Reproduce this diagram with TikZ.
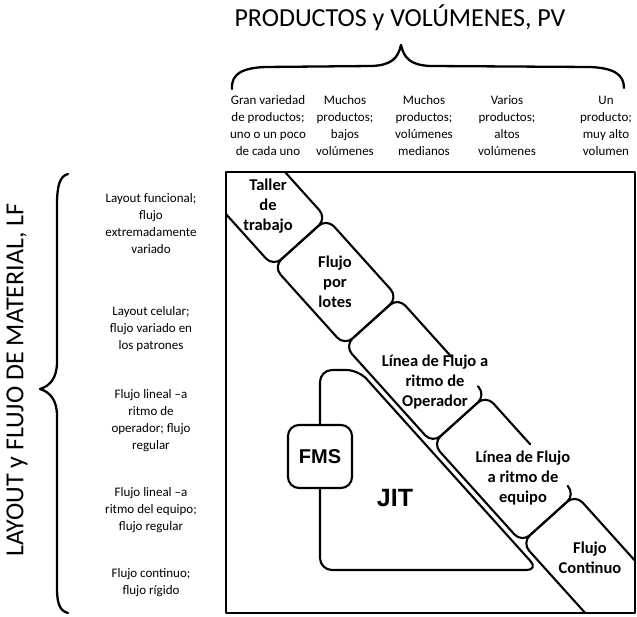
\documentclass[tikz,border=0pt]{standalone}
\usepackage{fontspec}
\setmainfont{Carlito}
\newfontfamily\heavyfont{Liberation Sans}
\begin{document}
\begin{tikzpicture}[x=1pt,y=-1pt,
  line cap=round, line join=round,
  hdr/.style={font=\fontsize{26}{30}\selectfont, inner sep=0pt},
  note/.style={font=\fontsize{13}{17}\selectfont, align=center, inner sep=0pt},
  celltext/.style={font=\bfseries\fontsize{16.5}{20}\selectfont, align=center, inner sep=0pt},
  tag/.style={font=\heavyfont\bfseries\fontsize{20}{24}\selectfont, inner sep=0pt},
  brace/.style={line width=2.3pt},
  frame/.style={line width=2.3pt},
  cell/.style={line width=2.1pt, rounded corners=11pt},
]
\useasboundingbox (0,0) rectangle (637,617);

% axis titles
\node[hdr] (pv) at (400,18) {PRODUCTOS y VOLÚMENES, PV};
\node[hdr, rotate=90] (lf) at (17,380) {LAYOUT y FLUJO DE MATERIAL, LF};

% braces
\draw[brace] (232,89) .. controls (231,74) and (242,68) .. (265,67) -- (372,66)
  .. controls (392,65) and (398,58) .. (401,45)
  .. controls (404,58) and (410,65) .. (430,66) -- (590,67)
  .. controls (613,68) and (624,74) .. (624,88);
\draw[brace] (68,174) .. controls (60,176) and (57,185) .. (57,205) -- (57,362)
  .. controls (57,378) and (50,386) .. (40,389)
  .. controls (50,392) and (57,400) .. (57,416) -- (57,588)
  .. controls (57,604) and (60,611) .. (68,613);

% column headings
\node[note] (c1) at (268,125.5) {Gran variedad\\de productos;\\uno o un poco\\de cada uno};
\node[note] (c2) at (345,125.5) {Muchos\\productos;\\bajos\\volúmenes};
\node[note] (c3) at (424,125.5) {Muchos\\productos;\\volúmenes\\medianos};
\node[note] (c4) at (507,125.5) {Varios\\productos;\\altos\\volúmenes};
\node[note] (c5) at (606,125.5) {Un\\producto;\\muy alto\\volumen};

% row headings
\node[note] (r1) at (151,224) {Layout funcional;\\flujo\\extremadamente\\variado};
\node[note] (r2) at (151,329.5) {Layout celular;\\flujo variado en\\los patrones};
\node[note] (r3) at (151,421) {Flujo lineal –a\\ritmo de\\operador; flujo\\regular};
\node[note] (r4) at (151,510) {Flujo lineal –a\\ritmo del equipo;\\flujo regular};
\node[note] (r5) at (151,583) {Flujo continuo;\\flujo rígido};

% diagonal band of process types
\begin{scope}
  \clip (226,172) rectangle (635,613);
  \begin{scope}[x={(0.669pt,-0.743pt)}, y={(0.743pt,0.669pt)}]
    \draw[cell] (200,24.7) -- (381,24.7) -- (381,96.7) -- (200,96.7) -- cycle;
    \draw[cell] (381,24.7) -- (487.5,24.7) -- (487.5,96.7) -- (381,96.7) -- cycle;
    \draw[cell] (607,96.7) -- (619,96.7) -- (619,24.7) -- (487.5,24.7) -- (487.5,96.7) -- (567,96.7);
    \draw[cell] (741,96.7) -- (752.5,96.7) -- (752.5,24.7) -- (619,24.7) -- (619,96.7) -- (685,96.7);
    \draw[cell] (752.5,24.7) -- (1000,24.7) -- (1000,96.7) -- (752.5,96.7) -- cycle;
  \end{scope}
\end{scope}

% JIT region with FMS cell on its edge
\draw[cell, rounded corners=12pt] (320,370) -- (358.5,370) -- (538.5,570) -- (320,570) -- cycle;
\node[draw, line width=2.1pt, rounded corners=11pt, fill=white,
      minimum width=64pt, minimum height=63pt, tag] (fms) at (320,456.5) {FMS};
\node[tag, font=\heavyfont\bfseries\fontsize{25}{30}\selectfont] (jit) at (395,498) {JIT};

% process labels
\node[celltext] (taller) at (268,206) {Taller\\de\\trabajo};
\node[celltext] (lotes) at (335,282) {Flujo\\por\\lotes};
\node[celltext] (oper) at (435,382) {Línea de Flujo a\\ritmo de\\Operador};
\node[celltext] (equipo) at (523,478) {Línea de Flujo\\a ritmo de\\equipo};
\node[celltext] (cont) at (590,558) {Flujo\\Continuo};

% outer frame
\draw[frame] (226,172) rectangle (635,613);
\end{tikzpicture}
\end{document}
